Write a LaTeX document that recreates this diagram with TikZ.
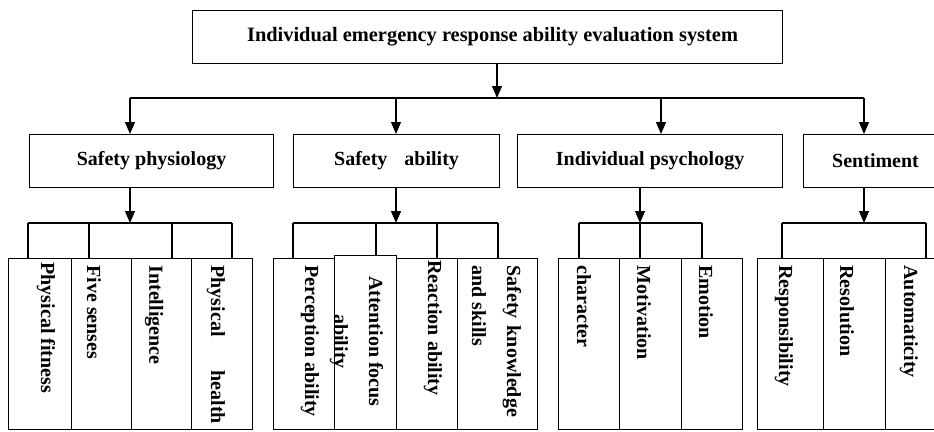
\documentclass[tikz,border=0pt]{standalone}
\usepackage{fontspec}
\setmainfont{Liberation Serif}
\usetikzlibrary{arrows.meta}
\begin{document}
\begin{tikzpicture}[x=1pt,y=-1pt,line width=1.1pt,
  font=\fontsize{20}{35}\selectfont\bfseries,
  box/.style={draw, inner sep=0pt, anchor=north west},
  leaf/.style={draw, inner sep=0pt, anchor=north west, minimum height=171.5},
  lab/.style={rotate=-90, anchor=west, inner sep=0pt},
  arr/.style={-{Triangle[width=10pt,length=12pt]}}]
\useasboundingbox (0,0) rectangle (934,431);
\clip (0,0) rectangle (934,431);
% level 1
\node[box, minimum width=590, minimum height=53, font=\fontsize{20.4}{24}\selectfont\bfseries] (top) at (192,10) {\hspace{10pt}Individual emergency response ability evaluation system};
% level 2
\node[box, minimum width=244, minimum height=53] (sp) at (29,134) {Safety physiology};
\node[box, minimum width=206, minimum height=53] (sa) at (293,134) {Safety\hspace{17pt}ability};
\node[box, minimum width=265, minimum height=53] (ip) at (517,134) {Individual psychology};
\node[box, minimum width=144, minimum height=53] (se) at (803,134) {Sentiment};
% level 3 boxes
\node[leaf, minimum width=63] (b11) at (8,257.5) {};
\node[leaf, minimum width=60] (b12) at (71,257.5) {};
\node[leaf, minimum width=60] (b13) at (131,257.5) {};
\node[leaf, minimum width=61] (b14) at (191,257.5) {};
\node[leaf, minimum width=61] (b21) at (273,257.5) {};
\node[leaf, minimum width=62, minimum height=174] (b22) at (334,255) {};
\node[leaf, minimum width=61] (b23) at (396,257.5) {};
\node[leaf, minimum width=80] (b24) at (457,257.5) {};
\node[leaf, minimum width=61] (b31) at (558,257.5) {};
\node[leaf, minimum width=62] (b32) at (619,257.5) {};
\node[leaf, minimum width=61] (b33) at (681,257.5) {};
\node[leaf, minimum width=66] (b41) at (757,257.5) {};
\node[leaf, minimum width=62] (b42) at (823,257.5) {};
\node[leaf, minimum width=62] (b43) at (885,257.5) {};
% level 3 labels
\node[lab] (t11) at (46,262) {Physical fitness};
\node[lab] (t12) at (94,265) {Five senses};
\node[lab] (t13) at (154,265) {Intelligence};
\node[lab] (t14) at (216,265) {Physical\hspace{34pt}health};
\node[lab] (t21) at (310,265) {Perception ability};
\node[rotate=-90, inner sep=0pt, align=center] (t22) at (356.5,341.5) {Attention focus\\ability};
\node[lab] (t23) at (433,260) {Reaction ability};
\node[lab, align=left] (t24) at (496.5,265) {Safety\hspace{7pt}knowledge\\and skills};
\node[lab] (t31) at (584,265) {character};
\node[lab] (t32) at (644,265) {Motivation};
\node[lab] (t33) at (706,265) {Emotion};
\node[lab] (t41) at (784,265) {Responsibility};
\node[lab] (t42) at (847,265) {Resolution};
\node[lab] (t43) at (909,265) {Automaticity};
% connectors level 1 -> 2
\coordinate (j0) at (497,98);
\coordinate (busL) at (130,98);
\coordinate (a2) at (396,98);
\coordinate (a3) at (661,98);
\coordinate (busR) at (864,98);
\draw[arr] (top.south -| j0) -- (j0);
\draw (busL) -- (busR);
\draw[arr] (busL) -- (busL |- sp.north);
\draw[arr] (a2) -- (a2 |- sa.north);
\draw[arr] (a3) -- (a3 |- ip.north);
\draw[arr] (busR) -- (busR |- se.north);
% safety physiology group
\coordinate (k1) at (130,223);
\coordinate (p1) at (28,223);
\coordinate (p2) at (89,223);
\coordinate (p3) at (172,223);
\coordinate (p4) at (232,223);
\draw[arr] (sp.south -| k1) -- (k1);
\draw (p1) -- (p4);
\draw (p1) -- (p1 |- b11.north);
\draw (p2) -- (p2 |- b12.north);
\draw (p3) -- (p3 |- b13.north);
\draw (p4) -- (p4 |- b14.north);
% safety ability group
\coordinate (k2) at (396,223);
\coordinate (q1) at (293,223);
\coordinate (q2) at (376,223);
\coordinate (q3) at (437,223);
\coordinate (q4) at (498,223);
\draw[arr] (sa.south -| k2) -- (k2);
\draw (q1) -- (q4);
\draw (q1) -- (q1 |- b21.north);
\draw (q2) -- (q2 |- b22.north);
\draw (q3) -- (q3 |- b23.north);
\draw (q4) -- (q4 |- b24.north);
% individual psychology group
\coordinate (k3) at (640,223);
\coordinate (r1) at (579,223);
\coordinate (r3) at (702,223);
\draw[arr] (ip.south -| k3) -- (k3);
\draw (r1) -- (r3);
\draw (r1) -- (r1 |- b31.north);
\draw (k3) -- (k3 |- b32.north);
\draw (r3) -- (r3 |- b33.north);
% sentiment group
\coordinate (k4) at (864,223);
\coordinate (s1) at (782,223);
\coordinate (s2) at (926,223);
\draw[arr] (se.south -| k4) -- (k4);
\draw (s1) -- (s2);
\draw (s1) -- (s1 |- b41.north);
\draw (s2) -- (s2 |- b43.north);
\end{tikzpicture}
\end{document}
